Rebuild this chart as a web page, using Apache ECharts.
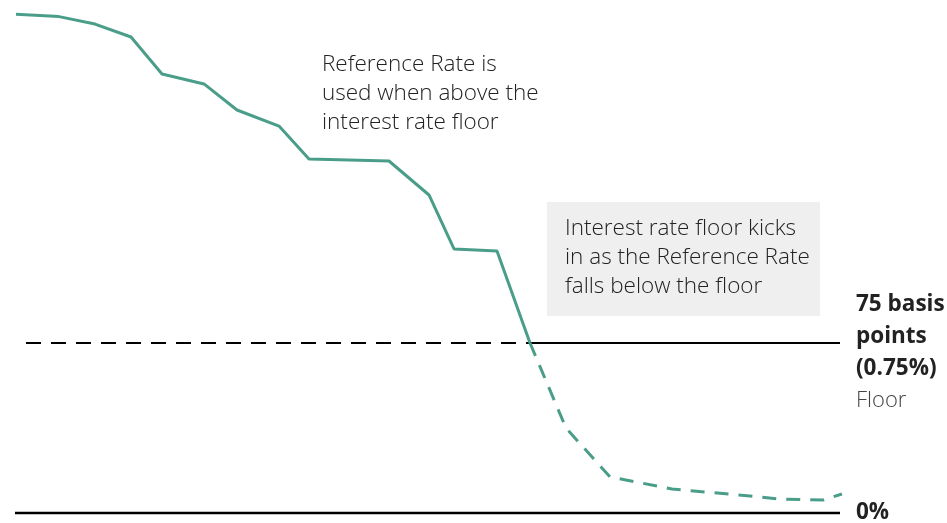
<!DOCTYPE html>
<html><head><meta charset="utf-8">
<script src="https://cdn.jsdelivr.net/npm/echarts@6/dist/echarts.min.js"></script>
<style>html,body{margin:0;padding:0;background:#fff}#c{width:947px;height:523px}</style>
</head><body><div id="c"></div>
<script>
// Reference rate above the floor (solid) — x in time units, y in %
var aboveX = [1, 44, 80, 116, 147, 189, 222, 264, 294, 374, 414, 439, 482, 515];
var aboveY = [2.20, 2.19, 2.157, 2.10, 1.937, 1.893, 1.778, 1.707, 1.562, 1.553, 1.403, 1.165, 1.156, 0.75];
// Reference rate below the floor (dashed)
var belowX = [515, 551, 595, 657, 735, 762, 808, 827];
var belowY = [0.75, 0.375, 0.159, 0.106, 0.075, 0.062, 0.057, 0.084];
var floorRate = 0.75;
var zeroRate = 0;
var floorDashX = [11, 515];
var floorSolidX = [515, 825];
var zeroX = [0, 825];
var labelFloor = ['75 basis', 'points', '(0.75%)'];
var labelFloorSub = 'Floor';
var labelZero = '0%';
var noteAbove = 'Reference Rate is\nused when above the\ninterest rate floor';
var noteBelow = 'Interest rate floor kicks\nin as the Reference Rate\nfalls below the floor';

function pairs(xs, ys){ return xs.map(function(x,i){ return [x, ys[i]]; }); }
function flat(xs, v){ return xs.map(function(x){ return [x, v]; }); }

var green = '#4a9e89';
var font = '"Open Sans", "Noto Sans", sans-serif';
var chart = echarts.init(document.getElementById('c'));
chart.setOption({
  animation: false,
  grid: {left: 15, right: 104, top: 3, bottom: 10, containLabel: false},
  xAxis: {type: 'value', min: 0, max: 828, show: false},
  yAxis: {type: 'value', min: 0, max: 2.25, show: false},
  series: [
    {type: 'line', data: flat(floorDashX, floorRate), symbol: 'none', clip: false,
     lineStyle: {color: '#000', width: 2, type: [15, 10]}},
    {type: 'line', data: flat(floorSolidX, floorRate), symbol: 'none', clip: false,
     lineStyle: {color: '#000', width: 2}},
    {type: 'line', data: flat(zeroX, zeroRate), symbol: 'none', clip: false,
     lineStyle: {color: '#000', width: 2.5}},
    {type: 'line', data: pairs(aboveX, aboveY), symbol: 'none', clip: false,
     lineStyle: {color: green, width: 3}},
    {type: 'line', data: pairs(belowX, belowY), symbol: 'none', clip: false,
     lineStyle: {color: green, width: 3, type: [14, 10]}}
  ],
  graphic: [
    {type: 'rect', shape: {x: 547, y: 202, width: 273, height: 114}, style: {fill: '#eeefee'}, z: 1},
    {type: 'text', x: 322, y: 94, z: 10, style: {text: noteAbove, font: '300 22.5px ' + font, fill: '#222', lineHeight: 29, verticalAlign: 'middle'}},
    {type: 'text', x: 565, y: 258, z: 10, style: {text: noteBelow, font: '300 22.5px ' + font, fill: '#222', lineHeight: 29, verticalAlign: 'middle'}},
    {type: 'text', x: 856, y: 305, z: 10, style: {text: labelFloor[0], font: 'bold 22.5px ' + font, fill: '#222', verticalAlign: 'middle'}},
    {type: 'text', x: 856, y: 337, z: 10, style: {text: labelFloor[1], font: 'bold 22.5px ' + font, fill: '#222', verticalAlign: 'middle'}},
    {type: 'text', x: 856, y: 369, z: 10, style: {text: labelFloor[2], font: 'bold 22.5px ' + font, fill: '#222', verticalAlign: 'middle'}},
    {type: 'text', x: 856, y: 401, z: 10, style: {text: labelFloorSub, font: '300 22px ' + font, fill: '#444', verticalAlign: 'middle'}},
    {type: 'text', x: 856, y: 513, z: 10, style: {text: labelZero, font: 'bold 22.5px ' + font, fill: '#222', verticalAlign: 'middle'}}
  ]
});
</script></body></html>
